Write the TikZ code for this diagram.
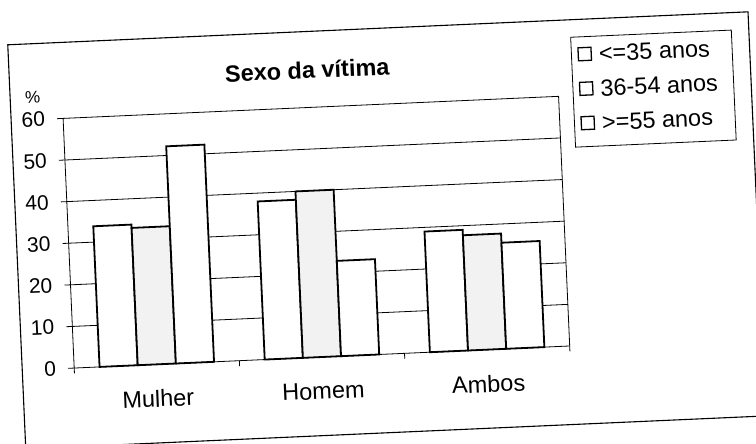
\documentclass[tikz,border=0pt]{standalone}
\usepackage{fontspec}
\setmainfont{Liberation Sans}
\begin{document}
\begin{tikzpicture}[x=1pt,y=1pt,
  frameline/.style={line width=1.1pt},
  gridl/.style={line width=0.8pt},
  barw/.style={draw, line width=1.8pt, fill=white},
  barg/.style={draw, line width=1.8pt, fill=black!5},
  lbl/.style={font=\fontsize{23.5}{27}\selectfont, inner sep=0pt},
  num/.style={font=\fontsize{21}{25}\selectfont, inner sep=0pt, anchor=east},
  legsq/.style={draw, line width=1.3pt, fill=white, minimum size=13pt, inner sep=0pt},
]
\useasboundingbox (0,0) rectangle (756,444);
\clip (0,0) rectangle (756,444);
\begin{scope}[rotate around={2.55:(378,222)}, transform shape]
  \draw[frameline] (16,11) rectangle (757,415.5);
  \node[font=\bfseries\fontsize{23.5}{27}\selectfont, inner sep=0pt] (title) at (314,377) {Sexo da vítima};
  \node[font=\fontsize{17}{20}\selectfont, inner sep=0pt] (pct) at (38.5,362.3) {\%};
  % legend
  \draw[gridl] (578.7,288) rectangle (739.5,398);
  \node[legsq] (s1) at (592,380.6) {};
  \node[legsq] (s2) at (592,346) {};
  \node[legsq] (s3) at (592,311.6) {};
  \node[lbl, anchor=west] (l1) at (606,380.6) {<=35 anos};
  \node[lbl, anchor=west] (l2) at (606,346) {36-54 anos};
  \node[lbl, anchor=west] (l3) at (606,311.6) {>=55 anos};
  % plot
  \begin{scope}[shift={(68,89.6)}, y=4.165pt]
    \foreach \v in {10,20,...,50} \draw[gridl] (0,\v) -- (496,\v);
    \draw[gridl] (0,60) -- (496,60) -- (496,0);
    \foreach \c/\a/\b/\d in {0/33.8/33/52.2, 1/38/40/22.9, 2/29/27.7/25.5} {
      \pgfmathsetmacro\xo{\c*165.33+25.37}
      \draw[barw] (\xo,0) rectangle ++(38.2,\a);
      \draw[barg] (\xo+38.2,0) rectangle ++(38.2,\b);
      \draw[barw] (\xo+76.4,0) rectangle ++(38.2,\d);
    }
    \draw[gridl] (0,60) -- (0,0) -- (496,0);
    \foreach \v in {0,10,...,60} {
      \draw[gridl] (-6,\v) -- (0,\v);
      \node[num] (y\v) at (-18,\v) {\v};
    }
    \foreach \i in {0,1,2,3} \draw[gridl] (\i*165.33,0) -- ++(0,-1.3);
    \node[lbl] (cm) at (82.67,-8.2) {Mulher};
    \node[lbl] (ch) at (248,-8.2) {Homem};
    \node[lbl] (ca) at (413.3,-8.2) {Ambos};
  \end{scope}
\end{scope}
\end{tikzpicture}
\end{document}
